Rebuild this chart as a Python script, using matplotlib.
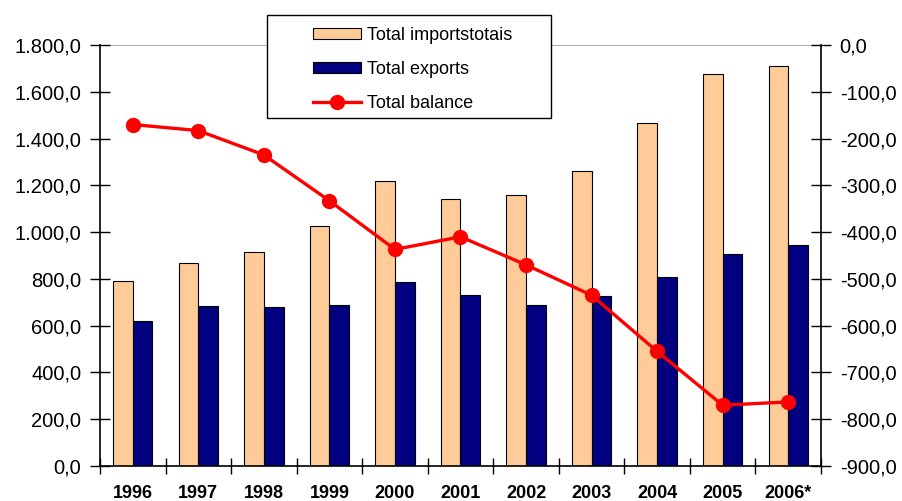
import matplotlib
matplotlib.use("Agg")
import matplotlib.pyplot as plt
import numpy as np
from matplotlib.ticker import FuncFormatter, FixedLocator
from matplotlib.patches import Rectangle, Patch
from matplotlib.lines import Line2D

plt.rcParams['font.family'] = ['Liberation Sans', 'DejaVu Sans']

years = ["1996", "1997", "1998", "1999", "2000", "2001", "2002", "2003", "2004", "2005", "2006*"]
imports = [790, 870, 915, 1025, 1220, 1140, 1160, 1260, 1465, 1675, 1710]
exports = [620, 685, 680, 690, 785, 730, 690, 725, 810, 905, 945]
balance = [-170, -183, -235, -333, -437, -410, -470, -535, -655, -770, -763]

def fmt(v, pos=None):
    s = f"{abs(v):,.1f}".replace(",", "X").replace(".", ",").replace("X", ".")
    return ("-" if v < 0 else "") + s

fig = plt.figure(figsize=(9.03, 5.01), dpi=100)
ax = fig.add_axes([100/903, 1-466/501, (821-100)/903, (466-45)/501])
x = np.arange(len(years))
bw = 0.3
ax.bar(x - bw/2, imports, width=bw, color="#FFCC99", edgecolor="black", linewidth=0.8, zorder=2)
ax.bar(x + bw/2, exports, width=bw, color="#000080", edgecolor="black", linewidth=0.8, zorder=2)
ax.set_xlim(-0.5, len(years) - 0.5)
ax.set_ylim(0, 1800)
ax.set_yticks(np.arange(0, 1801, 200))
ax.yaxis.set_major_formatter(FuncFormatter(fmt))
ax.axhline(1800, color="#999999", linewidth=1.2, zorder=1)
ax.xaxis.set_major_locator(FixedLocator(np.arange(-0.5, len(years), 1.0)))
ax.set_xticklabels([])
ax.xaxis.set_minor_locator(FixedLocator(x))
ax.set_xticklabels(years, minor=True, fontsize=13, fontweight="bold")
ax.tick_params(axis="x", which="major", direction="inout", length=12, width=1)
ax.tick_params(axis="x", which="minor", length=0, pad=13.5)
ax.tick_params(axis="y", direction="inout", length=15, width=1, labelsize=14.5, pad=6)
for s in ["top", "right"]:
    ax.spines[s].set_visible(False)
ax.spines["left"].set_linewidth(1.2)
ax.spines["bottom"].set_linewidth(1.2)

ax2 = ax.twinx()
ax2.plot(x, balance, color="#FF0000", linewidth=2.4, marker="o", markersize=10, zorder=5)
ax2.set_ylim(-900, 0)
ax2.set_yticks(np.arange(-900, 1, 100))
ax2.yaxis.set_major_formatter(FuncFormatter(fmt))
ax2.tick_params(axis="y", direction="inout", length=15, width=1, labelsize=14.5, pad=6)
for s in ["top", "left", "bottom"]:
    ax2.spines[s].set_visible(False)
ax2.spines["right"].set_linewidth(1.2)

# legend
fig.patches.append(Rectangle((267/903, 1-118/501), (551-267)/903, (118-15)/501,
                             transform=fig.transFigure, facecolor="white",
                             edgecolor="black", linewidth=1, zorder=10))
handles = [Patch(facecolor="#FFCC99", edgecolor="black", linewidth=0.8),
           Patch(facecolor="#000080", edgecolor="black", linewidth=0.8),
           Line2D([], [], color="#FF0000", linewidth=2.4, marker="o", markersize=10)]
labels = ["Total importstotais", "Total exports", "Total balance"]
leg = fig.legend(handles, labels, loc="upper left", bbox_to_anchor=(309/903, 1-23/501),
                 frameon=False, fontsize=13, handlelength=2.7, handleheight=0.6,
                 handletextpad=0.3, labelspacing=0.95, borderaxespad=0, borderpad=0.2)
leg.set_zorder(11)

fig.savefig("out.png", dpi=100)
